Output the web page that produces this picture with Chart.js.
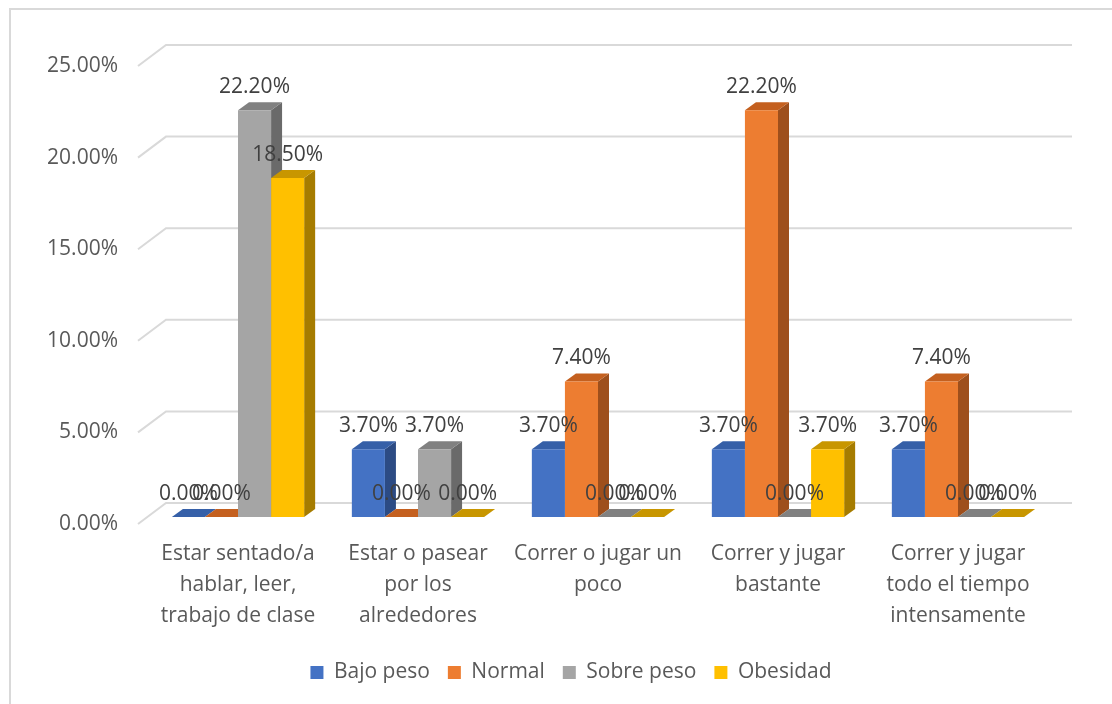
<!DOCTYPE html>
<html>
<head>
<meta charset="utf-8">
<script src="https://cdn.jsdelivr.net/npm/chart.js@4.4.1/dist/chart.umd.min.js"></script>
<style>
  html, body { margin: 0; padding: 0; background: #ffffff; }
  canvas { display: block; }
</style>
</head>
<body>
<canvas id="chart" width="1112" height="704"></canvas>
<script>
// Activity categories (multi-line axis labels)
const categories = [
  ['Estar sentado/a', 'hablar, leer,', 'trabajo de clase'],
  ['Estar o pasear', 'por los', 'alrededores'],
  ['Correr o jugar un', 'poco'],
  ['Correr y jugar', 'bastante'],
  ['Correr y jugar', 'todo el tiempo', 'intensamente']
];

// Percentages per weight group
const bajoPeso  = [0, 3.7, 3.7, 3.7, 3.7];
const normal    = [0, 0, 7.4, 22.2, 7.4];
const sobrePeso = [22.2, 3.7, 0, 0, 0];
const obesidad  = [18.5, 0, 0, 3.7, 0];

const seriesNames = ['Bajo peso', 'Normal', 'Sobre peso', 'Obesidad'];
const yTickValues = [0, 5, 10, 15, 20, 25];

// Face shades: front, top, side
const palette = [
  { front: '#4472C4', top: '#3660A8', side: '#2C4B84' },
  { front: '#ED7D31', top: '#C4601F', side: '#9E4F1C' },
  { front: '#A5A5A5', top: '#818181', side: '#6A6A6A' },
  { front: '#FFC000', top: '#C89600', side: '#A67C00' }
];

const FONT = "'Open Sans', 'DejaVu Sans', sans-serif";
const FONT_SIZE = 21;
const DEPTH_X = 11, DEPTH_Y = -8;
const LEGEND_SHIFT = 47;

Chart.defaults.font.family = FONT;

// Frame, back-wall gridlines and the extruded faces of every bar
const depthFaces = {
  id: 'depthFaces',
  afterLayout(chart) {
    // centre the legend under the whole frame rather than the plot box
    if (chart.legend) {
      chart.legend.left += LEGEND_SHIFT;
      chart.legend.right += LEGEND_SHIFT;
    }
  },
  beforeDraw(chart) {
    const ctx = chart.ctx;
    ctx.save();
    ctx.strokeStyle = '#d9d9d9';
    ctx.lineWidth = 2;
    ctx.beginPath();
    ctx.moveTo(10, 720);
    ctx.lineTo(10, 9);
    ctx.lineTo(1130, 9);
    ctx.stroke();
    ctx.restore();
  },
  beforeDatasetsDraw(chart) {
    const ctx = chart.ctx, ys = chart.scales.y, area = chart.chartArea;
    ctx.save();
    ctx.strokeStyle = '#d9d9d9';
    ctx.lineWidth = 2;
    ys.ticks.forEach(t => {
      const p = ys.getPixelForValue(t.value);
      ctx.beginPath();
      ctx.moveTo(area.left - 10, p + 7);
      ctx.lineTo(area.left + 18, p - 14);
      ctx.lineTo(area.right + 24, p - 14);
      ctx.stroke();
    });

    const bars = [];
    chart.data.datasets.forEach((ds, di) => {
      chart.getDatasetMeta(di).data.forEach((el, i) => {
        const p = el.getProps(['x', 'y', 'base', 'width'], true);
        bars.push({ di, left: p.x - p.width / 2, right: p.x + p.width / 2, top: p.y, base: p.base });
      });
    });

    // side faces first, then tops so a neighbour's top hides the lower part of a side
    bars.forEach(b => {
      if (b.base - b.top < 0.5) return;
      ctx.fillStyle = palette[b.di].side;
      ctx.beginPath();
      ctx.moveTo(b.right, b.top);
      ctx.lineTo(b.right + DEPTH_X, b.top + DEPTH_Y);
      ctx.lineTo(b.right + DEPTH_X, b.base + DEPTH_Y);
      ctx.lineTo(b.right, b.base);
      ctx.closePath();
      ctx.fill();
    });
    bars.forEach(b => {
      ctx.fillStyle = palette[b.di].top;
      ctx.beginPath();
      ctx.moveTo(b.left, b.top);
      ctx.lineTo(b.left + DEPTH_X, b.top + DEPTH_Y);
      ctx.lineTo(b.right + DEPTH_X, b.top + DEPTH_Y);
      ctx.lineTo(b.right, b.top);
      ctx.closePath();
      ctx.fill();
    });
    ctx.restore();
  },
  afterDatasetsDraw(chart) {
    const ctx = chart.ctx;
    ctx.save();
    ctx.font = FONT_SIZE + 'px ' + FONT;
    ctx.fillStyle = '#404040';
    ctx.textAlign = 'center';
    ctx.textBaseline = 'middle';
    chart.data.datasets.forEach((ds, di) => {
      chart.getDatasetMeta(di).data.forEach((el, i) => {
        const p = el.getProps(['x', 'y'], true);
        ctx.fillText(ds.data[i].toFixed(2) + '%', p.x, p.y - 23);
      });
    });
    ctx.restore();
  }
};

const seriesData = [bajoPeso, normal, sobrePeso, obesidad];

new Chart(document.getElementById('chart'), {
  type: 'bar',
  data: {
    labels: categories,
    datasets: seriesData.map((d, i) => ({
      label: seriesNames[i],
      data: d,
      backgroundColor: palette[i].front,
      borderWidth: 0,
      categoryPercentage: 0.735,
      barPercentage: 1
    }))
  },
  options: {
    responsive: false,
    animation: false,
    layout: { padding: { top: 59, right: 64, bottom: 11, left: 0 } },
    plugins: {
      tooltip: { enabled: false },
      legend: {
        position: 'bottom',
        labels: {
          color: '#595959',
          font: { size: FONT_SIZE },
          boxWidth: 13,
          boxHeight: 13,
          padding: 18
        }
      }
    },
    scales: {
      x: {
        grid: { display: false },
        border: { display: false },
        ticks: {
          color: '#595959',
          font: { size: FONT_SIZE, lineHeight: 1.46 },
          padding: 14,
          maxRotation: 0,
          autoSkip: false
        },
        afterFit(s) { s.height = 127; }
      },
      y: {
        min: 0,
        max: 25,
        grid: { display: false },
        border: { display: false },
        afterBuildTicks(s) { s.ticks = yTickValues.map(v => ({ value: v })); },
        ticks: {
          color: '#595959',
          font: { size: FONT_SIZE },
          padding: 22,
          labelOffset: 7,
          callback: v => v.toFixed(2) + '%'
        },
        afterFit(s) { s.width = 148; }
      }
    }
  },
  plugins: [depthFaces]
});
</script>
</body>
</html>
